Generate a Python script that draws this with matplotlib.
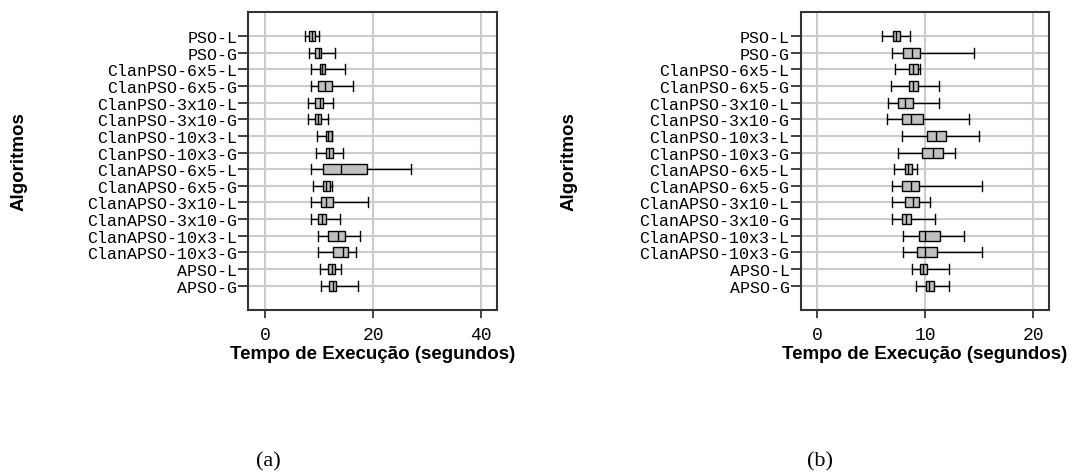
import matplotlib
matplotlib.use("Agg")
import matplotlib.pyplot as plt

algoritmos = ["PSO-L", "PSO-G", "ClanPSO-6x5-L", "ClanPSO-6x5-G",
              "ClanPSO-3x10-L", "ClanPSO-3x10-G", "ClanPSO-10x3-L", "ClanPSO-10x3-G",
              "ClanAPSO-6x5-L", "ClanAPSO-6x5-G", "ClanAPSO-3x10-L", "ClanAPSO-3x10-G",
              "ClanAPSO-10x3-L", "ClanAPSO-10x3-G", "APSO-L", "APSO-G"]

# (a) tempos de execucao: minimo, Q1, mediana, Q3, maximo
a_min = [7.3, 8.2, 8.5, 8.5, 7.9, 7.9, 9.6, 9.5, 8.5, 8.8, 8.5, 8.5, 9.8, 9.8, 10.1, 10.4]
a_q1 = [8.2, 9.3, 10.1, 9.8, 9.3, 9.3, 11.2, 11.3, 10.7, 10.7, 10.4, 9.8, 11.6, 12.6, 11.6, 11.9]
a_med = [8.7, 9.9, 10.6, 11.1, 10.1, 9.8, 11.7, 11.9, 14.1, 11.2, 11.2, 10.6, 13.5, 14.4, 12.3, 12.6]
a_q3 = [9.3, 10.4, 11.1, 12.3, 10.7, 10.4, 12.3, 12.6, 18.8, 12.0, 12.6, 11.3, 14.7, 15.3, 12.9, 13.2]
a_max = [9.9, 12.9, 14.7, 16.3, 12.6, 11.6, 12.3, 14.4, 27.1, 12.4, 19.1, 13.8, 17.5, 16.9, 14.1, 17.2]

# (b)
b_min = [6.05, 6.9, 7.2, 6.8, 6.6, 6.45, 7.85, 7.5, 7.1, 6.9, 6.9, 6.9, 8.0, 8.0, 8.8, 9.15]
b_q1 = [7.0, 8.0, 8.5, 8.5, 7.5, 7.85, 10.2, 9.7, 8.15, 7.85, 8.15, 7.85, 9.4, 9.25, 9.55, 10.1]
b_med = [7.3, 8.8, 8.9, 8.9, 8.15, 8.7, 11.0, 10.7, 8.45, 8.7, 8.85, 8.25, 10.0, 10.0, 9.85, 10.4]
b_q3 = [7.7, 9.55, 9.3, 9.3, 8.9, 9.85, 11.9, 11.7, 8.8, 9.45, 9.45, 8.7, 11.4, 11.1, 10.2, 10.8]
b_max = [8.6, 14.5, 9.55, 11.25, 11.25, 14.05, 15.0, 12.8, 9.25, 15.3, 10.5, 10.95, 13.6, 15.3, 12.2, 12.2]

xticks_a = [0, 20, 40]
xticks_b = [0, 10, 20]


def stats(mins, q1s, meds, q3s, maxs):
    out = []
    for lo, q1, med, q3, hi in zip(mins, q1s, meds, q3s, maxs):
        out.append(dict(whislo=lo, q1=q1, med=med, q3=q3, whishi=hi, fliers=[]))
    return out


def painel(ax, st, xticks, xlim, tag, tag_x, ylab_x):
    pos = list(range(1, len(algoritmos) + 1))
    ax.bxp(st, positions=pos, widths=0.6, capwidths=0.6, orientation="horizontal",
           patch_artist=True, showfliers=False,
           boxprops=dict(facecolor="#c0c0c0", edgecolor="black", linewidth=1.0),
           medianprops=dict(color="black", linewidth=1.0),
           whiskerprops=dict(color="black", linewidth=1.0),
           capprops=dict(color="black", linewidth=1.0), zorder=3)
    ax.set_ylim(len(algoritmos) + 1.45, 1 - 1.45)
    ax.set_xlim(*xlim)
    ax.set_yticks(pos)
    ax.set_yticklabels(algoritmos, fontfamily="Liberation Mono", fontsize=12)
    ax.set_xticks(xticks)
    ax.set_xticklabels([str(t) for t in xticks], fontfamily="Liberation Mono", fontsize=13)
    ax.grid(True, color="#cccccc", linewidth=1.5, zorder=0)
    ax.set_axisbelow(True)
    for s in ax.spines.values():
        s.set_linewidth(1.5)
        s.set_color("#333333")
    ax.tick_params(axis="y", length=7, width=1.3, pad=1, color="#333333")
    ax.tick_params(axis="x", length=6, width=1.3, pad=6, color="#333333")
    ax.set_xlabel("Tempo de Execução (segundos)", fontfamily="Liberation Sans",
                  fontweight="bold", fontsize=13.5, labelpad=1)
    ax.set_ylabel("Algoritmos", fontfamily="Liberation Sans",
                  fontweight="bold", fontsize=13.5)
    ax.yaxis.set_label_coords(ylab_x, 0.5)
    fig.text(tag_x, 0.032, tag, fontfamily="Liberation Serif", fontsize=16,
             ha="center", va="center")


fig = plt.figure(figsize=(10.72, 4.77), dpi=100)
ax1 = fig.add_axes([0.2318, 0.3486, 0.2321, 0.6241])
ax2 = fig.add_axes([0.7469, 0.3486, 0.2319, 0.6241])

painel(ax1, stats(a_min, a_q1, a_med, a_q3, a_max), xticks_a, (-3.1, 43.0),
       "(a)", 268 / 1072, -0.888)
painel(ax2, stats(b_min, b_q1, b_med, b_q3, b_max), xticks_b, (-1.52, 21.5),
       "(b)", 820 / 1072, -0.896)

fig.savefig("out.png", dpi=100)
